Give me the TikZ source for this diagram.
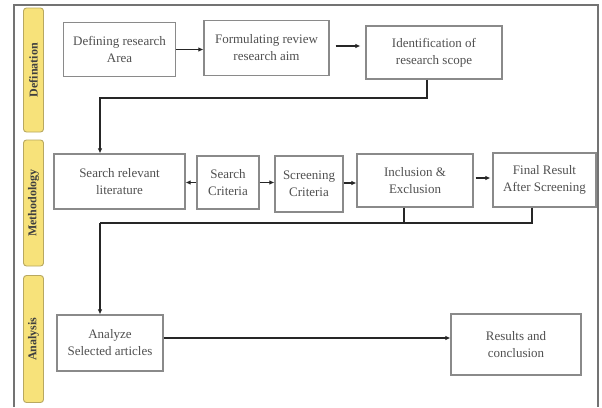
\documentclass[tikz,border=0pt]{standalone}
\usepackage{fontspec}
\setmainfont{Liberation Serif}
\usetikzlibrary{arrows.meta}
\definecolor{lab}{HTML}{F7E27A}
\definecolor{labedge}{HTML}{B8A860}
\definecolor{boxedge}{HTML}{8A8A8A}
\definecolor{txt}{HTML}{505050}
\begin{document}
\begin{tikzpicture}[x=1pt,y=-1pt,
  stagebox/.style={draw=boxedge,line width=1.1pt,fill=white,align=center,text=txt,
    font=\fontsize{13}{17}\selectfont,inner sep=0pt},
  sidelab/.style={draw=labedge,fill=lab,rounded corners=3pt,line width=0.9pt,
    inner sep=0pt},
  sidetext/.style={rotate=90,font=\bfseries\fontsize{12}{13}\selectfont,text=black!75},
  conn/.style={draw=black!85,line width=1.4pt},
  arr/.style={conn,-{Latex[length=5pt,width=4.5pt]}}]
\useasboundingbox (0,0) rectangle (602,407);
\fill[white] (0,0) rectangle (602,407);
% outer frame
\draw[black!55,line width=1.2pt] (14,407) -- (14,5) -- (598,5) -- (598,407);
% side labels
\node[sidelab,minimum width=20pt,minimum height=124pt] (ldef) at (33.5,70) {};
\node[sidetext] at (ldef) {Defination};
\node[sidelab,minimum width=20pt,minimum height=126pt] (lmet) at (33.5,203) {};
\node[sidetext] at (lmet) {Methodology};
\node[sidelab,minimum width=20pt,minimum height=127pt] (lana) at (33.5,339) {};
\node[sidetext] at (lana) {Analysis};
% row 1
\node[stagebox,minimum width=112pt,minimum height=54pt] (def) at (119.5,49.5) {Defining research\\Area};
\node[stagebox,minimum width=125pt,minimum height=55pt] (form) at (266.5,48) {Formulating review\\research aim};
\node[stagebox,minimum width=136pt,minimum height=53pt] (iden) at (434,52.5) {Identification of\\research scope};
% row 2
\node[stagebox,minimum width=131pt,minimum height=55pt] (srl) at (119.5,181.5) {Search relevant\\literature};
\node[stagebox,minimum width=62pt,minimum height=53pt] (sc) at (228,182.5) {Search\\Criteria};
\node[stagebox,minimum width=68pt,minimum height=56pt] (scr) at (309,184) {Screening\\Criteria};
\node[stagebox,minimum width=116pt,minimum height=53pt] (inc) at (415,180.5) {Inclusion \&\\Exclusion};
\node[stagebox,minimum width=103pt,minimum height=54pt] (fin) at (544.5,180) {Final Result\\After Screening};
% row 3
\node[stagebox,minimum width=106pt,minimum height=56pt] (ana) at (110,343) {Analyze\\Selected articles};
\node[stagebox,minimum width=130pt,minimum height=61pt] (res) at (516,344.5) {Results and\\conclusion};
% connectors
\draw[arr] (def.east) -- (form.west|-def.east);
\draw[arr] ([xshift=6pt]form.east|-0,46) -- ([xshift=-5pt]iden.west|-0,46);
\coordinate (c1) at (427,98);
\coordinate (c2) at (100,98);
\draw[arr] (iden.south-|c1) -- (c1) -- (c2) -- (c2|-srl.north);
\draw[arr] (sc.west) -- (srl.east|-sc.west);
\draw[arr] (sc.east) -- (scr.west|-sc.east);
\draw[arr] (scr.east|-0,183) -- (inc.west|-0,183);
\draw[arr] ([xshift=2pt]inc.east|-0,178) -- ([xshift=-2pt]fin.west|-0,178);
\coordinate (d1) at (404,223);
\coordinate (d2) at (532,223);
\coordinate (d3) at (100,223);
\draw[conn] (inc.south-|d1) -- (d1);
\draw[conn] (fin.south-|d2) -- (d2) -- (d3);
\draw[arr] (d3) -- (d3|-ana.north);
\draw[arr] (ana.east|-0,338) -- (res.west|-0,338);
\end{tikzpicture}
\end{document}
